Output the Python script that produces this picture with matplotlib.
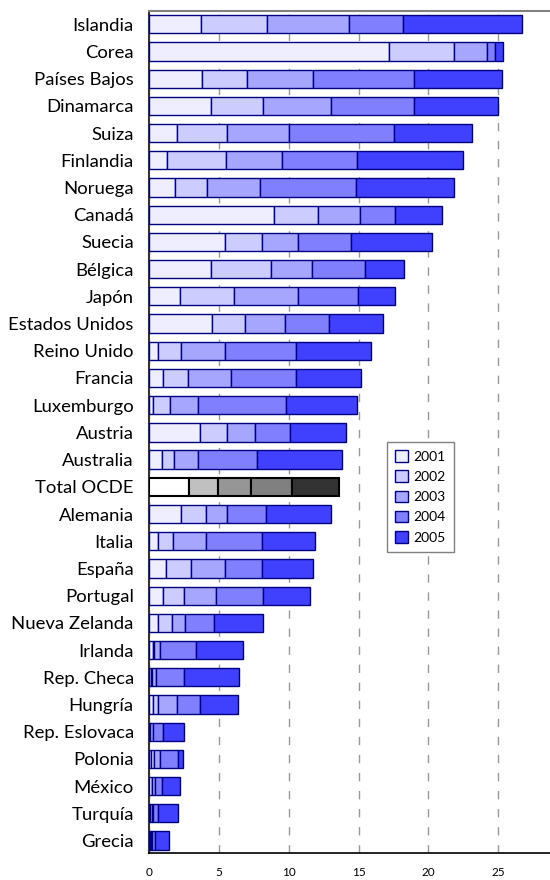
import matplotlib
matplotlib.use("Agg")
import matplotlib.pyplot as plt
import numpy as np

paises = ["Islandia", "Corea", "Países Bajos", "Dinamarca", "Suiza", "Finlandia",
          "Noruega", "Canadá", "Suecia", "Bélgica", "Japón", "Estados Unidos",
          "Reino Unido", "Francia", "Luxemburgo", "Austria", "Australia",
          "Total OCDE", "Alemania", "Italia", "España", "Portugal",
          "Nueva Zelanda", "Irlanda", "Rep. Checa", "Hungría", "Rep. Eslovaca",
          "Polonia", "México", "Turquía", "Grecia"]

anios = ["2001", "2002", "2003", "2004", "2005"]

v2001 = [3.72, 17.20, 3.79, 4.41, 1.98, 1.31, 1.88, 8.92, 5.42, 4.41, 2.19, 4.48,
         0.62, 0.98, 0.31, 3.63, 0.93, 2.89, 2.27, 0.67, 1.24, 0.98, 0.67, 0.29,
         0.12, 0.31, 0.05, 0.12, 0.19, 0.10, 0.07]
v2002 = [4.70, 4.60, 3.22, 3.77, 3.63, 4.22, 2.29, 3.17, 2.69, 4.30, 3.87, 2.41,
         1.65, 1.83, 1.22, 1.98, 0.84, 2.02, 1.83, 1.07, 1.79, 1.52, 0.95, 0.09,
         0.12, 0.31, 0.05, 0.21, 0.05, 0.10, 0.07]
v2003 = [5.89, 2.36, 4.75, 4.84, 4.43, 3.99, 3.80, 3.03, 2.58, 2.98, 4.63, 2.84,
         3.15, 3.08, 2.00, 2.00, 1.76, 2.41, 1.51, 2.36, 2.39, 2.32, 0.98, 0.43,
         0.24, 1.38, 0.19, 0.48, 0.19, 0.11, 0.10]
v2004 = [3.89, 0.63, 7.23, 5.97, 7.47, 5.39, 6.82, 2.46, 3.79, 3.79, 4.29, 3.18,
         5.08, 4.61, 6.27, 2.46, 4.18, 2.89, 2.79, 4.01, 2.69, 3.36, 2.08, 2.53,
         2.03, 1.65, 0.74, 1.29, 0.52, 0.36, 0.19]
v2005 = [8.52, 0.57, 6.30, 6.01, 5.58, 7.56, 7.06, 3.41, 5.80, 2.79, 2.60, 3.86,
         5.36, 4.70, 5.11, 4.00, 6.08, 3.39, 4.60, 3.79, 3.60, 3.34, 3.45, 3.36,
         3.91, 2.70, 1.50, 0.31, 1.27, 1.43, 1.03]

colores = ["#EEEEFF", "#CCCCFF", "#A6A6FF", "#8080FF", "#4040FF"]
grises = ["#FFFFFF", "#C0C0C0", "#969696", "#808080", "#333333"]

plt.rcParams['font.family'] = ['Lato', 'DejaVu Sans']

fig = plt.figure(figsize=(5.5, 8.8), dpi=100)
ax = fig.add_axes([0.271, 0.031, 0.729, 0.9565])

y = np.arange(len(paises))
izq = np.zeros(len(paises))
total_idx = paises.index("Total OCDE")

for k, serie in enumerate([v2001, v2002, v2003, v2004, v2005]):
    serie = np.array(serie)
    cols = [grises[k] if i == total_idx else colores[k] for i in range(len(paises))]
    edges = ["black" if i == total_idx else "#000080" for i in range(len(paises))]
    lws = [1.5 if i == total_idx else 1.0 for i in range(len(paises))]
    ax.barh(y, serie, left=izq, height=0.67, color=cols, edgecolor=edges,
            linewidth=lws, label=anios[k], zorder=3)
    izq += serie

ax.set_xlim(0, 28.7)
ax.set_ylim(30.45, -0.49)
ax.set_yticks(y)
ax.set_yticklabels(paises, fontsize=13.3)
ax.set_xticks([0, 5, 10, 15, 20, 25])
ax.tick_params(axis='x', length=0, labelsize=8.5, pad=10)
ax.tick_params(axis='y', length=0, pad=11)
ax.grid(axis='x', color='#999999', linestyle=(0, (6, 7)), linewidth=1, zorder=0)

ax.spines['right'].set_visible(False)
ax.spines['top'].set_color('#808080')
ax.spines['top'].set_linewidth(1.5)
ax.spines['left'].set_color('#333333')
ax.spines['left'].set_linewidth(1.5)
ax.spines['bottom'].set_color('black')
ax.spines['bottom'].set_linewidth(1.2)

leg = ax.legend(loc='upper left', bbox_to_anchor=(0.593, 0.488), fontsize=10,
                fancybox=False, edgecolor='#808080', framealpha=1,
                handlelength=0.9, handleheight=0.9, handletextpad=0.4,
                labelspacing=0.55, borderpad=0.6, borderaxespad=0)
# leyenda con colores azules aunque Total OCDE sea gris
for h, c in zip(leg.legend_handles, colores):
    h.set_facecolor(c)
    h.set_edgecolor("#000080")
    h.set_linewidth(1.0)

fig.savefig("out.png", dpi=100)
